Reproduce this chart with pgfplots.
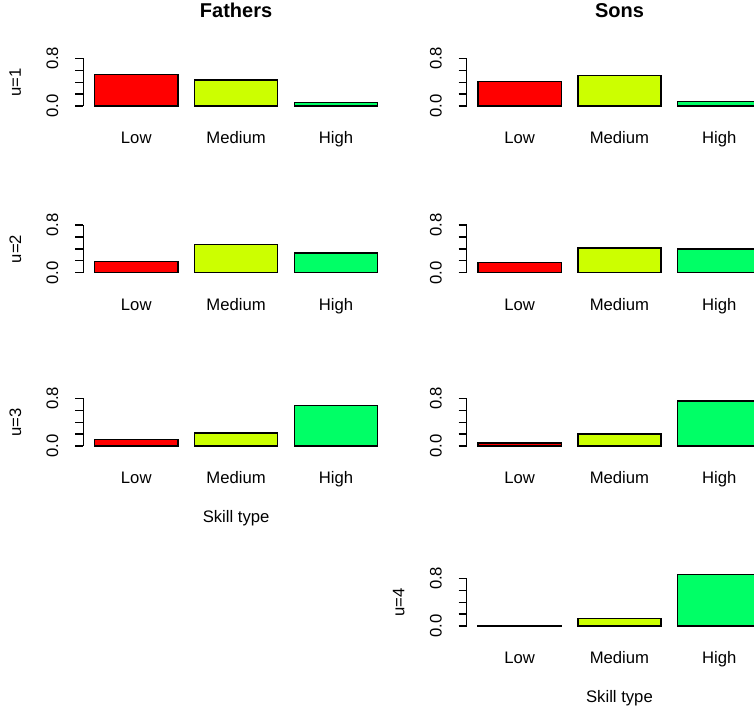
\documentclass[12pt,border=0pt]{standalone}
\usepackage{pgfplots}
\pgfplotsset{compat=1.18}
\usepackage{fontspec}
\setmainfont{Liberation Sans}
\definecolor{cLow}{HTML}{FF0000}
\definecolor{cMed}{HTML}{CCFF00}
\definecolor{cHigh}{HTML}{00FF66}
\pgfplotsset{
  panel/.style={
    scale only axis, width=220pt, height=34.3pt,
    anchor=south west,
    xmin=0.064, xmax=3.736, ymin=0, ymax=0.8,
    clip=false,
    axis x line=bottom, axis y line=left,
    axis line style={-, line width=1pt, black},
    x axis line style={draw=none},
    xtick={0.7,1.9,3.1}, xticklabels={Low,Medium,High},
    xtick style={draw=none},
    xticklabel style={anchor=base, yshift=-21.2pt, font=\normalsize},
    ytick={0,0.2,0.4,0.6,0.8},
    yticklabels={\textrm{0.0},,,,\textrm{0.8}},
    ytick align=outside, major tick length=5.8pt,
    ytick style={line width=1pt, black},
    yticklabel style={xshift=-8pt, rotate=90, anchor=south, font=\normalsize},
    ylabel style={at={([xshift=-49pt]axis description cs:0,0.5)}, anchor=center, font=\normalsize},
    xlabel style={at={([yshift=-54.7pt]axis description cs:0.5,0)}, anchor=base, font=\normalsize},
    title style={at={([yshift=23.5pt]axis description cs:0.5,1)}, anchor=base, font=\large\bfseries},
    ybar, bar width=1,
  },
  lowbar/.style={fill=cLow, draw=black, line width=1pt, bar shift=0pt},
  medbar/.style={fill=cMed, draw=black, line width=1pt, bar shift=0pt},
  highbar/.style={fill=cHigh, draw=black, line width=1pt, bar shift=0pt},
}
\begin{document}
\begin{tikzpicture}
\useasboundingbox (0,0) rectangle (542.88pt,509.04pt);
\clip (0,0) rectangle (542.88pt,509.04pt);
% ---------------- Fathers ----------------
\begin{axis}[panel, at={(60pt,432.7pt)}, title={Fathers}, ylabel={u=1}]
\addplot[lowbar] coordinates {(0.7,0.53)};
\addplot[medbar] coordinates {(1.9,0.44)};
\addplot[highbar] coordinates {(3.1,0.055)};
\end{axis}
\begin{axis}[panel, at={(60pt,312.7pt)}, ylabel={u=2}]
\addplot[lowbar] coordinates {(0.7,0.19)};
\addplot[medbar] coordinates {(1.9,0.475)};
\addplot[highbar] coordinates {(3.1,0.33)};
\end{axis}
\begin{axis}[panel, at={(60pt,187.9pt)}, ylabel={u=3}, xlabel={Skill type}]
\addplot[lowbar] coordinates {(0.7,0.107)};
\addplot[medbar] coordinates {(1.9,0.22)};
\addplot[highbar] coordinates {(3.1,0.68)};
\end{axis}
% ---------------- Sons ----------------
\begin{axis}[panel, at={(336pt,432.7pt)}, title={Sons}]
\addplot[lowbar] coordinates {(0.7,0.41)};
\addplot[medbar] coordinates {(1.9,0.515)};
\addplot[highbar] coordinates {(3.1,0.08)};
\end{axis}
\begin{axis}[panel, at={(336pt,312.7pt)}]
\addplot[lowbar] coordinates {(0.7,0.17)};
\addplot[medbar] coordinates {(1.9,0.415)};
\addplot[highbar] coordinates {(3.1,0.40)};
\end{axis}
\begin{axis}[panel, at={(336pt,187.9pt)}]
\addplot[lowbar] coordinates {(0.7,0.05)};
\addplot[medbar] coordinates {(1.9,0.20)};
\addplot[highbar] coordinates {(3.1,0.755)};
\end{axis}
\begin{axis}[panel, at={(336pt,58.3pt)}, ylabel={u=4}, xlabel={Skill type}]
\addplot[lowbar] coordinates {(0.7,0.01)};
\addplot[medbar] coordinates {(1.9,0.125)};
\addplot[highbar] coordinates {(3.1,0.87)};
\end{axis}
\end{tikzpicture}
\end{document}
